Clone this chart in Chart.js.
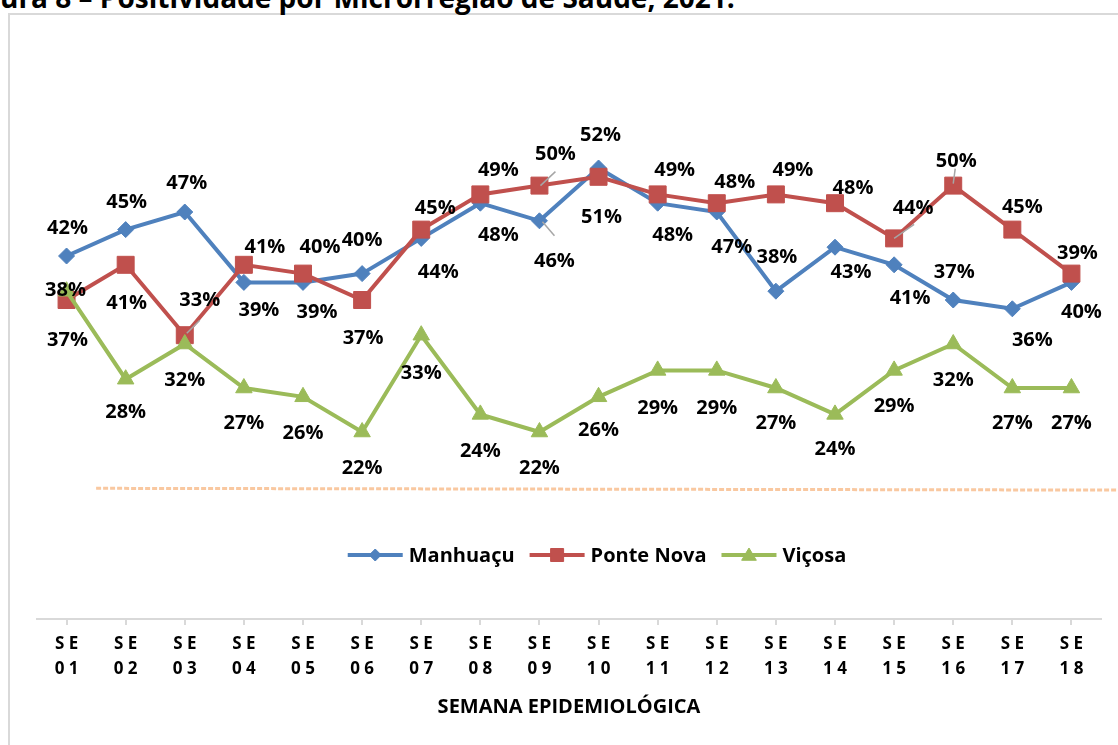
<!DOCTYPE html>
<html><head><meta charset="utf-8">
<script src="https://cdn.jsdelivr.net/npm/chart.js@4.4.1/dist/chart.umd.min.js"></script>
<style>
html,body{margin:0;padding:0;background:#fff;overflow:hidden;width:1118px;height:745px;}
#frame{position:absolute;left:8px;top:13px;width:1200px;height:800px;border:2px solid #d9d9d9;box-sizing:border-box;}
#title{position:absolute;left:0;top:-17px;font:bold 28px 'Open Sans';line-height:28px;white-space:nowrap;color:#000;}
#wrap{position:absolute;left:0;top:0;width:1118px;height:745px;}
</style></head><body>
<div id="frame"></div>
<div id="title">ura 8 – Positividade por Microrregião de Saúde, 2021.</div>
<div id="wrap"><canvas id="c"></canvas></div>
<script>
// ---- data ----
const categories = ['SE 01','SE 02','SE 03','SE 04','SE 05','SE 06','SE 07','SE 08','SE 09','SE 10','SE 11','SE 12','SE 13','SE 14','SE 15','SE 16','SE 17','SE 18'];
const tickLabels = [['S E','0 1'],['S E','0 2'],['S E','0 3'],['S E','0 4'],['S E','0 5'],['S E','0 6'],['S E','0 7'],['S E','0 8'],['S E','0 9'],['S E','1 0'],['S E','1 1'],['S E','1 2'],['S E','1 3'],['S E','1 4'],['S E','1 5'],['S E','1 6'],['S E','1 7'],['S E','1 8']];
const seriesNames = ['Manhuaçu','Ponte Nova','Viçosa'];
const manhuacu  = [42,45,47,39,39,40,44,48,46,52,48,47,38,43,41,37,36,39];
const ponteNova = [37,41,33,41,40,37,45,49,50,51,49,48,49,48,44,50,45,40];
const vicosa    = [38,28,32,27,26,22,33,24,22,26,29,29,27,24,29,32,27,27];
const refLineX  = [1.5, 18.8];
const refLineY  = [15.6, 15.4];
const axisTitle = 'SEMANA EPIDEMIOLÓGICA';

// ---- label placement (offsets from each point, px) ----
const labelOffsets = [
  [[1,-28],[1,-27],[2,-29],[15,28],[14,30],[0,-33],[17,34],[18,32],[15,40],[2,-33],[15,32],[15,35],[1,-34],[16,25],[16,33],[1,-28],[20,31],[6,-29]],
  [[1,40],[1,38],[15,-35],[21,-18],[17,-26],[1,38],[14,-21],[18,-24],[16,-31],[3,40],[17,-24],[18,-21],[17,-24],[18,-15],[19,-30],[3,-24],[10,-22],[10,39]],
  [[-1,-1],[0,33],[0,36],[0,35],[0,36],[0,36],[0,38],[0,37],[0,36],[0,33],[0,38],[0,38],[0,35],[0,35],[0,36],[0,36],[0,35],[0,35]]
];
const leaders = [ // [series, point, x1, y1, x2, y2] relative to point
  [1,2,2,-2,15,-15],[1,8,1,0,16,-14],[0,8,3,1,15,15],[1,14,0,0,20,-14],[1,15,0,-2,2,-17]
];
const colors = ['#4f81bd','#c0504d','#9bbb59'];
const styles = ['diamond','square','triangle'];

const FONT = "'Open Sans'";

function drawMarker(ctx, style, x, y, s, color){
  ctx.save();
  ctx.fillStyle = color; ctx.strokeStyle = color; ctx.lineWidth = 1;
  ctx.beginPath();
  if (style === 'diamond'){ ctx.moveTo(x, y-s); ctx.lineTo(x+s, y); ctx.lineTo(x, y+s); ctx.lineTo(x-s, y); }
  else if (style === 'square'){ ctx.rect(x-s, y-s, 2*s, 2*s); }
  else { ctx.moveTo(x, y-s); ctx.lineTo(x+s*1.05, y+s*0.75); ctx.lineTo(x-s*1.05, y+s*0.75); }
  ctx.closePath(); ctx.fill(); ctx.stroke();
  ctx.restore();
}

const labelsPlugin = {
  id: 'pctLabels',
  afterDatasetsDraw(chart){
    const ctx = chart.ctx;
    ctx.save();
    ctx.strokeStyle = '#a6a6a6'; ctx.lineWidth = 1.5;
    leaders.forEach(([s,i,x1,y1,x2,y2])=>{
      const p = chart.getDatasetMeta(s).data[i];
      ctx.beginPath(); ctx.moveTo(p.x+x1, p.y+y1); ctx.lineTo(p.x+x2, p.y+y2); ctx.stroke();
    });
    ctx.fillStyle = '#000';
    ctx.font = 'bold 20px ' + FONT;
    ctx.textAlign = 'center'; ctx.textBaseline = 'middle';
    for (let s = 0; s < 3; s++){
      const meta = chart.getDatasetMeta(s);
      const vals = chart.data.datasets[s].data;
      meta.data.forEach((p, i)=>{
        const [dx, dy] = labelOffsets[s][i];
        ctx.fillText(Math.round(vals[i]) + '%', p.x + dx, p.y + dy);
      });
    }
    ctx.restore();
  },
  afterDraw(chart){
    const ctx = chart.ctx;
    const ca = chart.chartArea;
    ctx.save();
    ctx.font = 'bold 20px ' + FONT;
    ctx.textBaseline = 'middle'; ctx.textAlign = 'left';
    const lineLen = 55, gapText = 6, gapItem = 15;
    const widths = seriesNames.map(n => lineLen + gapText + ctx.measureText(n).width);
    const total = widths.reduce((a,b)=>a+b,0) + gapItem*(seriesNames.length-1);
    let x = (ca.left + ca.right)/2 - total/2 + 28;
    const y = ca.bottom - 64;
    const msize = [6, 6.5, 7];
    seriesNames.forEach((n, i)=>{
      ctx.strokeStyle = colors[i]; ctx.lineWidth = 4;
      ctx.beginPath(); ctx.moveTo(x, y); ctx.lineTo(x+lineLen, y); ctx.stroke();
      drawMarker(ctx, styles[i], x + lineLen/2, y, msize[i], colors[i]);
      ctx.fillStyle = '#000';
      ctx.fillText(n, x + lineLen + gapText, y + 1);
      x += widths[i] + gapItem;
    });
    ctx.restore();
  }
};

const mk = (label, data, color, pstyle, prad, order) => ({
  label, data, borderColor: color, backgroundColor: color, borderWidth: 4,
  pointStyle: pstyle, pointRadius: prad, pointHoverRadius: prad, pointBackgroundColor: color,
  pointBorderColor: color, pointBorderWidth: 1, tension: 0, xAxisID: 'x', yAxisID: 'y', order
});

new Chart(document.getElementById('c'), {
  type: 'line',
  data: {
    labels: categories,
    datasets: [
      mk(seriesNames[0], manhuacu, colors[0], 'rectRot', 8, 3),
      mk(seriesNames[1], ponteNova, colors[1], 'rect', 12, 2),
      mk(seriesNames[2], vicosa, colors[2], 'triangle', 9.5, 1),
      { label: 'ref', data: refLineX.map((x,i)=>({x, y: refLineY[i]})), xAxisID: 'x2', yAxisID: 'y',
        borderColor: '#f9c8a0', borderWidth: 3, borderDash: [5,2], pointRadius: 0, clip: false, order: 4 }
    ]
  },
  options: {
    responsive: true, maintainAspectRatio: false, animation: false,
    layout: { padding: { left: 37, right: 17, top: 91, bottom: 22 } },
    plugins: { legend: { display: false }, tooltip: { enabled: false }, title: { display: false } },
    scales: {
      x: {
        type: 'category', offset: true,
        grid: { display: true, drawOnChartArea: false, drawTicks: true, tickLength: 6, color: '#d9d9d9', lineWidth: 2 },
        border: { display: true, color: '#d9d9d9', width: 2 },
        ticks: { autoSkip: false, maxRotation: 0, minRotation: 0, color: '#000', padding: 7,
          font: { family: FONT, weight: 'bold', size: 17, lineHeight: 25/17 },
          callback: (v, i) => tickLabels[i] },
        title: { display: true, text: axisTitle, color: '#000',
          font: { family: FONT, weight: 'bold', size: 20, lineHeight: 1.2 }, padding: { top: 6, bottom: 4 } }
      },
      x2: { type: 'linear', display: false, min: 0.5, max: 18.5 },
      y: { display: false, min: 0.75, max: 60.75 }
    }
  },
  plugins: [labelsPlugin]
});
</script>
</body></html>
